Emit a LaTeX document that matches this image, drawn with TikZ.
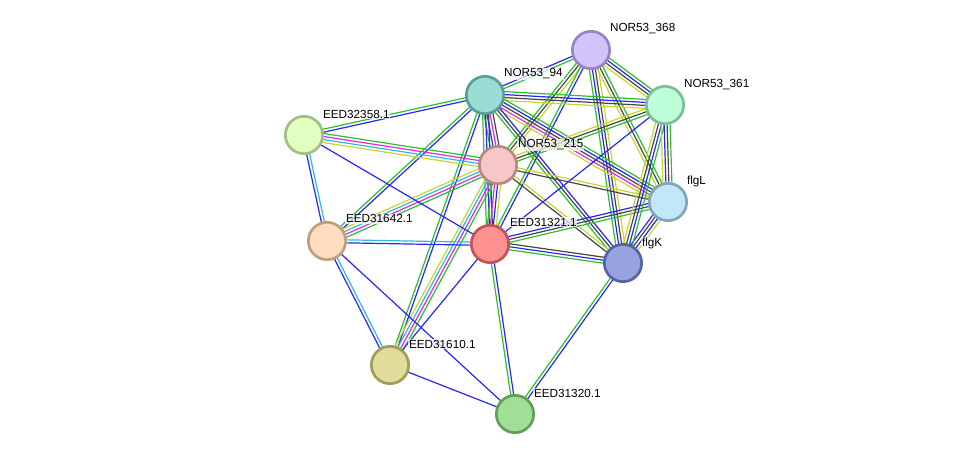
\documentclass[tikz,border=0pt]{standalone}
\usepackage{fontspec}
\setmainfont{Liberation Sans}
\usetikzlibrary{calc,backgrounds}
\definecolor{eg}{RGB}{45,190,45}
\definecolor{eb}{RGB}{40,40,245}
\definecolor{ek}{RGB}{70,70,70}
\definecolor{em}{RGB}{225,40,225}
\definecolor{ec}{RGB}{45,185,225}
\definecolor{ey}{RGB}{195,215,45}
\newcommand{\spc}{2.25}
\newcommand{\sedge}[3]{%
  \foreach \cc [count=\ii] in {#3} {\xdef\ncnt{\ii}}%
  \foreach \cc [count=\ii] in {#3} {%
    \pgfmathsetmacro\off{(\ii-(\ncnt+1)/2)*\spc}%
    \draw[\cc, line width=0.9pt] ($(#1)!\off pt!90:(#2)$) -- ($(#2)!\off pt!-90:(#1)$);
  }}
\tikzset{
  prot/.style={circle, minimum size=28pt, inner sep=0pt, line width=2pt},
  lab/.style={anchor=base west, font=\fontsize{8.8}{10}\selectfont, inner sep=0.6pt, fill=white, fill opacity=0.7, text opacity=1}
}
\begin{document}
\begin{tikzpicture}[x=0.75pt,y=-0.75pt]
\useasboundingbox (0,0) rectangle (976,460);
\node[prot, fill={rgb,255:red,210;green,196;blue,251}, draw={rgb,255:red,150;green,132;blue,200}] (A) at (591,50) {};
\node[prot, fill={rgb,255:red,153;green,221;blue,213}, draw={rgb,255:red,90;green,158;blue,150}] (B) at (485,95) {};
\node[prot, fill={rgb,255:red,190;green,255;blue,218}, draw={rgb,255:red,123;green,190;blue,154}] (C) at (665,105) {};
\node[prot, fill={rgb,255:red,224;green,255;blue,192}, draw={rgb,255:red,160;green,191;blue,128}] (D) at (304,135) {};
\node[prot, fill={rgb,255:red,247;green,199;blue,199}, draw={rgb,255:red,184;green,136;blue,136}] (E) at (498,165) {};
\node[prot, fill={rgb,255:red,194;green,230;blue,250}, draw={rgb,255:red,128;green,166;blue,186}] (F) at (668,202) {};
\node[prot, fill={rgb,255:red,255;green,221;blue,190}, draw={rgb,255:red,191;green,160;blue,126}] (G) at (327,241) {};
\node[prot, fill={rgb,255:red,255;green,145;blue,145}, draw={rgb,255:red,192;green,84;blue,84}] (H) at (490,244) {};
\node[prot, fill={rgb,255:red,151;green,163;blue,224}, draw={rgb,255:red,87;green,100;blue,160}] (K) at (623,263) {};
\node[prot, fill={rgb,255:red,224;green,220;blue,153}, draw={rgb,255:red,160;green,156;blue,89}] (L) at (390,365) {};
\node[prot, fill={rgb,255:red,160;green,223;blue,149}, draw={rgb,255:red,96;green,160;blue,85}] (M) at (515,414) {};
\begin{scope}[on background layer]
\sedge{A}{B}{eb,eg}
\sedge{A}{C}{ey,ek,eb,eg}
\sedge{A}{E}{eg,ek,ey}
\sedge{A}{H}{eg,eb}
\sedge{A}{F}{ey,ek,eg}
\sedge{A}{K}{eg,eb,ek,ey}
\sedge{B}{C}{ey,ek,eb,eg}
\sedge{B}{D}{eg,eb}
\sedge{B}{E}{eg,eb,em,ek}
\sedge{B}{H}{eg,eb,ek}
\sedge{B}{L}{eg,eb}
\sedge{B}{G}{eg,eb}
\sedge{B}{F}{ey,em,ek,eb,eg}
\sedge{B}{K}{eg,ek,eb}
\sedge{E}{D}{eg,em,ec,ey}
\sedge{E}{G}{ey,ec,em,eg}
\sedge{E}{H}{eg,em,eb,ey}
\sedge{E}{L}{ey,ec,em,eg}
\sedge{E}{F}{ek,ey}
\sedge{E}{K}{ek,ey}
\sedge{E}{C}{eg,ek,ey}
\sedge{H}{D}{eb}
\sedge{H}{G}{ec,eb}
\sedge{H}{F}{eg,ek,eb}
\sedge{H}{K}{eg,eb,ek}
\sedge{H}{L}{eb}
\sedge{H}{M}{eg,eb}
\sedge{H}{C}{eb}
\sedge{G}{D}{ec,eb}
\sedge{G}{L}{eb,ec}
\sedge{G}{M}{eb}
\sedge{L}{M}{eb}
\sedge{M}{K}{eb,eg}
\sedge{K}{F}{ey,eb,ek,eb}
\sedge{K}{C}{eg,eb,ek,ey}
\sedge{F}{C}{eg,ek,eb,ey}
\end{scope}
\node[lab] (lA) at (609,32) {NOR53\_368};
\node[lab] (lB) at (503,77) {NOR53\_94};
\node[lab] (lC) at (683,88) {NOR53\_361};
\node[lab] (lD) at (322,118) {EED32358.1};
\node[lab] (lE) at (517,148) {NOR53\_215};
\node[lab] (lF) at (686,185) {flgL};
\node[lab] (lG) at (345,223) {EED31642.1};
\node[lab] (lH) at (509,226) {EED31321.1};
\node[lab] (lK) at (641,246) {flgK};
\node[lab] (lL) at (408,348) {EED31610.1};
\node[lab] (lM) at (533,397) {EED31320.1};
\end{tikzpicture}
\end{document}
